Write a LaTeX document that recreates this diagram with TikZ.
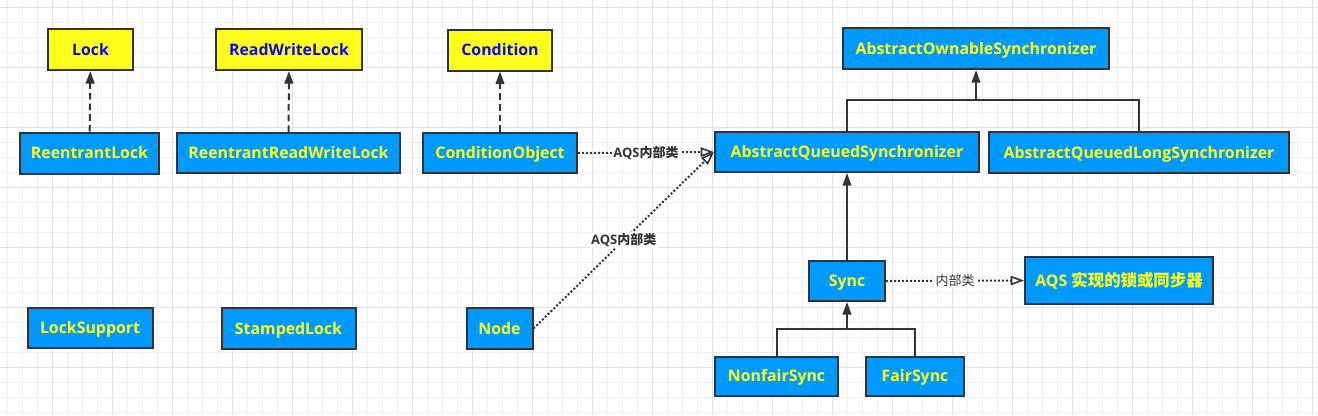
\documentclass[tikz,border=0pt]{standalone}
\usepackage{fontspec}
\setmainfont{Open Sans}
\newfontfamily\cjk{Noto Sans CJK SC}
\usetikzlibrary{arrows.meta}

\definecolor{boxblue}{HTML}{0099FF}
\definecolor{boxyellow}{HTML}{FFFF1A}
\definecolor{textblue}{HTML}{0A0AE6}
\definecolor{textyellow}{HTML}{FFFF1A}
\definecolor{linegray}{HTML}{333333}
\definecolor{gridminor}{HTML}{EFEFEF}
\definecolor{gridmajor}{HTML}{E2E2E2}

\tikzset{
  wh/.style 2 args={minimum width=#1*0.75pt, minimum height=#2*0.75pt},
  cls/.style={draw=linegray, line width=1.5pt, fill=boxblue, text=textyellow,
    inner sep=0pt, text height=0.85em, text depth=0pt,
    font=\bfseries\fontsize{11.9}{13}\selectfont},
  iface/.style={cls, fill=boxyellow, text=textblue},
  realizes/.style={draw=linegray, line width=1.5pt, dash pattern=on 5pt off 3pt,
    -{Triangle[length=9.5pt, width=6.5pt]}},
  extends/.style={draw=linegray, line width=1.5pt,
    -{Triangle[length=9.5pt, width=6.5pt]}},
  joins/.style={draw=linegray, line width=1.5pt},
  inner/.style={draw=linegray, line width=1.5pt, dash pattern=on 1.5pt off 1.5pt,
    -{Triangle[length=10pt, width=7pt, fill=white, line width=1.2pt]}},
  lbl/.style={fill=white, text=linegray, inner sep=1pt,
    font=\fontsize{9.75}{11}\selectfont},
}

\begin{document}
\begin{tikzpicture}[x=0.75pt, y=-0.75pt]
\useasboundingbox (0,0) rectangle (1318,415);

% grid
\foreach \x in {7,22,...,1318} \draw[gridminor, line width=0.75pt] (\x,0) -- (\x,415);
\foreach \y in {7,22,...,415} \draw[gridminor, line width=0.75pt] (0,\y) -- (1318,\y);
\foreach \x in {52,112,...,1318} \draw[gridmajor, line width=0.75pt] (\x,0) -- (\x,415);
\foreach \y in {7,67,...,415} \draw[gridmajor, line width=0.75pt] (0,\y) -- (1318,\y);

% interfaces
\node[iface, wh={85}{41}] (lock) at (90.5,49.5) {Lock};
\node[iface, wh={146}{41}] (rwlock) at (289,49.5) {ReadWriteLock};
\node[iface, wh={104}{41}] (cond) at (500,50) {Condition};

% classes
\node[cls, wh={139}{41}] (reentrant) at (89.5,153) {ReentrantLock};
\node[cls, wh={223}{40}] (rrwlock) at (288.5,153) {ReentrantReadWriteLock};
\node[cls, wh={154}{40}] (condobj) at (500,153) {ConditionObject};
\node[cls, wh={125}{40}] (support) at (90,328) {LockSupport};
\node[cls, wh={134}{41}] (stamped) at (288.5,328.5) {StampedLock};
\node[cls, wh={66}{41}] (qnode) at (499.5,328.5) {Node};

\node[cls, wh={266}{41}] (aos) at (976,48.5) {AbstractOwnableSynchronizer};
\node[cls, wh={264}{40}] (aqs) at (847,152) {AbstractQueuedSynchronizer};
\node[cls, wh={300}{41}] (aqls) at (1139,152.5) {AbstractQueuedLongSynchronizer};
\node[cls, wh={76}{40}] (sync) at (847,281) {Sync};
\node[cls, wh={188}{47}] (impls) at (1119,280.5) {AQS {\cjk\fontsize{12.3}{13}\selectfont 实现的锁或同步器}};
\node[cls, wh={123}{39}] (nonfair) at (776.5,376) {NonfairSync};
\node[cls, wh={98}{39}] (fair) at (915,376) {FairSync};

\coordinate (aosjoin) at (976,100);
\coordinate (syncjoin) at (847,329);

% implements
\draw[realizes] (reentrant) -- (lock);
\draw[realizes] (rrwlock) -- (rwlock);
\draw[realizes] (condobj) -- (cond);

% extends
\draw[joins] (aqs.north) |- (aosjoin) -| (aqls.north);
\draw[extends] (aosjoin) -- (aos.south);
\draw[extends] (sync) -- (aqs);
\draw[joins] (nonfair.north) |- (syncjoin) -| (fair.north);
\draw[extends] (syncjoin) -- (sync.south);

% inner classes
\draw[inner] (condobj.east) -- node[lbl, font=\bfseries\fontsize{9.75}{11}\selectfont] (lblcond) {AQS{\cjk 内部类}} (aqs.west);
\draw[inner] (qnode.east) -- node[lbl, font=\bfseries\fontsize{9.75}{11}\selectfont] (lblnode) {AQS{\cjk 内部类}} (aqs.west);
\draw[inner] (sync.east) -- node[lbl] (lblsync) {\cjk 内部类} (impls.west);
\end{tikzpicture}
\end{document}
